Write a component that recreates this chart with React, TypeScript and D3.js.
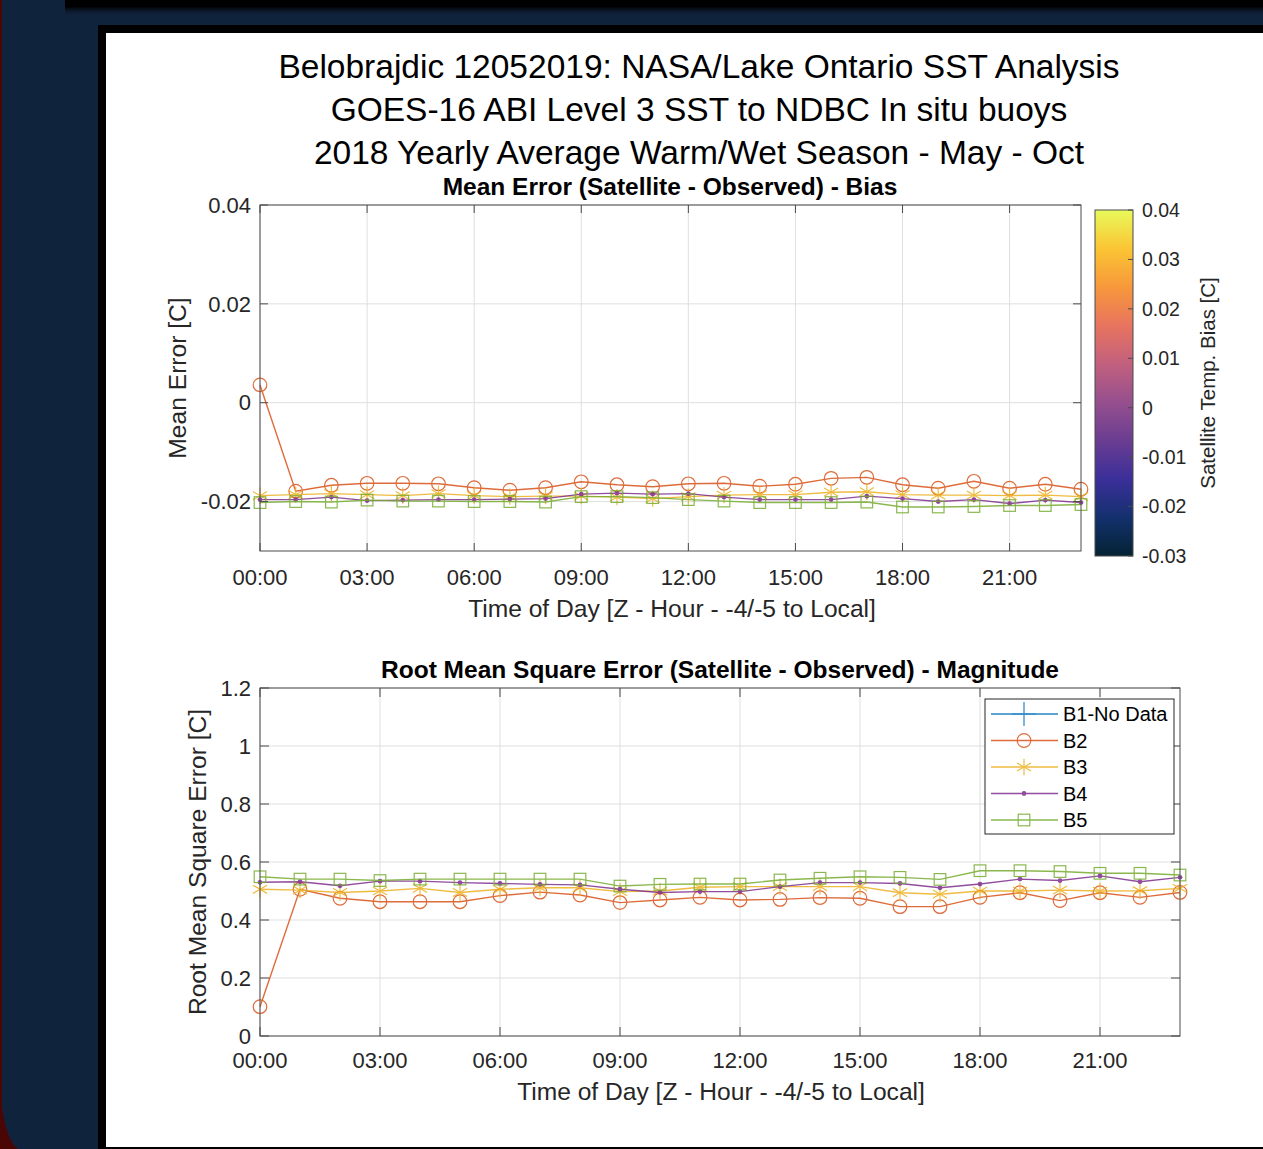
import * as d3 from 'd3'

// hours of day (Z)
const hours = [0, 1, 2, 3, 4, 5, 6, 7, 8, 9, 10, 11, 12, 13, 14, 15, 16, 17, 18, 19, 20, 21, 22, 23]
const hourTicks = [0, 3, 6, 9, 12, 15, 18, 21]
const hourLabels = ['00:00', '03:00', '06:00', '09:00', '12:00', '15:00', '18:00', '21:00']

// mean error (bias) per buoy
const biasB2 = [0.0036, -0.0179, -0.0167, -0.0163, -0.0163, -0.0164, -0.0172, -0.0177, -0.0172, -0.016, -0.0166, -0.017,
  -0.0164, -0.0163, -0.0169, -0.0165, -0.0153, -0.0151, -0.0166, -0.0173, -0.0159, -0.0173, -0.0165, -0.0175]
const biasB3 = [-0.0188, -0.0186, -0.0184, -0.0186, -0.0188, -0.0184, -0.0188, -0.019, -0.0189, -0.0189, -0.0191, -0.0194,
  -0.019, -0.0187, -0.0186, -0.0186, -0.0181, -0.018, -0.0186, -0.0187, -0.0187, -0.0188, -0.0187, -0.019]
const biasB4 = [-0.0196, -0.0196, -0.0191, -0.0198, -0.0197, -0.0196, -0.0196, -0.0195, -0.0194, -0.0185, -0.0183, -0.0185,
  -0.0184, -0.0191, -0.0196, -0.0196, -0.0196, -0.0189, -0.0194, -0.02, -0.0196, -0.0204, -0.0197, -0.0202]
const biasB5 = [-0.0202, -0.02, -0.0201, -0.0197, -0.0199, -0.0199, -0.02, -0.02, -0.0201, -0.019, -0.019, -0.0192,
  -0.0196, -0.0199, -0.0202, -0.0202, -0.0202, -0.0201, -0.0211, -0.0211, -0.021, -0.0208, -0.0208, -0.0206]

// root mean square error per buoy
const rmseB2 = [0.101, 0.506, 0.475, 0.463, 0.463, 0.463, 0.484, 0.496, 0.486, 0.46, 0.469, 0.478,
  0.469, 0.471, 0.477, 0.475, 0.446, 0.446, 0.478, 0.494, 0.467, 0.494, 0.478, 0.495]
const rmseB3 = [0.506, 0.503, 0.495, 0.5, 0.509, 0.495, 0.506, 0.511, 0.511, 0.498, 0.5, 0.513,
  0.515, 0.515, 0.515, 0.515, 0.494, 0.489, 0.5, 0.5, 0.503, 0.5, 0.501, 0.509]
const rmseB4 = [0.53, 0.532, 0.518, 0.534, 0.534, 0.529, 0.526, 0.523, 0.521, 0.506, 0.495, 0.498,
  0.498, 0.515, 0.529, 0.529, 0.526, 0.511, 0.524, 0.541, 0.536, 0.552, 0.532, 0.547]
const rmseB5 = [0.549, 0.541, 0.541, 0.536, 0.541, 0.541, 0.541, 0.541, 0.541, 0.517, 0.523, 0.524,
  0.524, 0.538, 0.544, 0.549, 0.547, 0.54, 0.57, 0.57, 0.567, 0.561, 0.561, 0.555]

const buoyNames = ['B1-No Data', 'B2', 'B3', 'B4', 'B5']
const buoyColors = ['#0072BD', '#D95319', '#EDB120', '#7E2F8E', '#77AC30']
const buoyMarkers = ['plus', 'circle', 'star', 'dot', 'square']

const biasTicks = [-0.02, 0, 0.02, 0.04]
const rmseTicks = [0, 0.2, 0.4, 0.6, 0.8, 1, 1.2]
const cbarTicks = [-0.03, -0.02, -0.01, 0, 0.01, 0.02, 0.03, 0.04]
// cmocean "thermal"-like colormap stops
const cbarColors = ['#042333', '#13306d', '#3b2f9a', '#6a3d91', '#964f8e', '#c2607e', '#e8745f', '#f7983b', '#fbc534', '#e8fa5b']

const FONT = '"Liberation Sans", Arial, Helvetica, sans-serif'
const TXT = '#262626'
const AX = '#4a4a4a'

function Marker({ kind, x, y, color }: { kind: string; x: number; y: number; color: string }) {
  if (kind === 'circle') return <circle cx={x} cy={y} r={6.8} fill="none" stroke={color} strokeWidth={1.2} />
  if (kind === 'square') return <rect x={x - 5.8} y={y - 5.8} width={11.6} height={11.6} fill="none" stroke={color} strokeWidth={1.2} />
  if (kind === 'dot') return <circle cx={x} cy={y} r={2.4} fill={color} />
  if (kind === 'star') return <path d={d3.symbol(d3.symbolAsterisk, 190)() || ''} transform={`translate(${x},${y})`} fill="none" stroke={color} strokeWidth={1.2} />
  if (kind === 'plus') return <path d={d3.symbol(d3.symbolPlus, 190)() || ''} transform={`translate(${x},${y})`} fill="none" stroke={color} strokeWidth={1.2} />
  return null
}

function Series({ values, idx, x, y }: { values: number[]; idx: number; x: d3.ScaleLinear<number, number>; y: d3.ScaleLinear<number, number> }) {
  const line = d3.line<number>().x((d, i) => x(hours[i])).y(d => y(d))
  const c = buoyColors[idx]
  return (
    <g opacity={0.85}>
      <path d={line(values) || ''} fill="none" stroke={c} strokeWidth={1.4} />
      {values.map((v, i) => <Marker key={i} kind={buoyMarkers[idx]} x={x(hours[i])} y={y(v)} color={c} />)}
    </g>
  )
}

function Grid({ x, y, yTicks }: { x: d3.ScaleLinear<number, number>; y: d3.ScaleLinear<number, number>; yTicks: number[] }) {
  const [x0, x1] = x.range()
  const [y1, y0] = y.range()
  return (
    <g>
      <rect x={x0} y={y0} width={x1 - x0} height={y1 - y0} fill="#fff" />
      {hourTicks.map(h => <line key={'gx' + h} x1={x(h)} x2={x(h)} y1={y0} y2={y1} stroke="#dfdfdf" strokeWidth={1} />)}
      {yTicks.map(t => <line key={'gy' + t} x1={x0} x2={x1} y1={y(t)} y2={y(t)} stroke="#dfdfdf" strokeWidth={1} />)}
    </g>
  )
}

function Frame({ x, y, yTicks, yFmt, tickLen, labelOff }: { x: d3.ScaleLinear<number, number>; y: d3.ScaleLinear<number, number>; yTicks: number[]; yFmt: (v: number) => string; tickLen: number; labelOff: number }) {
  const [x0, x1] = x.range()
  const [y1, y0] = y.range()
  return (
    <g fontFamily={FONT}>
      <rect x={x0} y={y0} width={x1 - x0} height={y1 - y0} fill="none" stroke={AX} strokeWidth={1} />
      {hourTicks.map(h => (
        <g key={'tx' + h}>
          <line x1={x(h)} x2={x(h)} y1={y1} y2={y1 - tickLen} stroke={AX} />
          <line x1={x(h)} x2={x(h)} y1={y0} y2={y0 + tickLen} stroke={AX} />
        </g>
      ))}
      {yTicks.map(t => (
        <g key={'ty' + t}>
          <line x1={x0} x2={x0 + tickLen} y1={y(t)} y2={y(t)} stroke={AX} />
          <line x1={x1} x2={x1 - tickLen} y1={y(t)} y2={y(t)} stroke={AX} />
          <text x={x0 - 9} y={y(t)} dy="0.35em" textAnchor="end" fontSize={22} fill={TXT}>{yFmt(t)}</text>
        </g>
      ))}
      {hourTicks.map((h, i) => (
        <text key={'lx' + h} x={x(h)} y={y1 + labelOff} textAnchor="middle" fontSize={22} fill={TXT}>{hourLabels[i]}</text>
      ))}
    </g>
  )
}

export default function App() {
  const W = 1263, H = 1149

  const xTop = d3.scaleLinear().domain([0, 23]).range([260, 1081])
  const yTop = d3.scaleLinear().domain([-0.03, 0.04]).range([551, 205])
  const xBot = d3.scaleLinear().domain([0, 23]).range([260, 1180])
  const yBot = d3.scaleLinear().domain([0, 1.2]).range([1036, 688])
  const yCbar = d3.scaleLinear().domain([-0.03, 0.04]).range([556, 210])

  const biasSeries = [null, biasB2, biasB3, biasB4, biasB5]
  const rmseSeries = [null, rmseB2, rmseB3, rmseB4, rmseB5]

  const fmtBias = (v: number) => (v === 0 ? '0' : d3.format('.2f')(v).replace('−', '-'))
  const fmtRmse = (v: number) => (v === 0 || v === 1 ? String(v) : d3.format('.1f')(v))

  const legX = 985, legY = 699, legRow = 26.5

  return (
    <svg width={W} height={H} style={{ position: 'absolute', left: 0, top: 0, display: 'block' }} fontFamily={FONT}>
      <defs>
        <linearGradient id="cbar" x1="0" y1="1" x2="0" y2="0">
          {cbarColors.map((c, i) => <stop key={i} offset={i / (cbarColors.length - 1)} stopColor={c} />)}
        </linearGradient>
        <linearGradient id="shadow" x1="0" y1="0" x2="0" y2="1">
          <stop offset="0" stopColor="#000" stopOpacity={0.9} />
          <stop offset="1" stopColor="#10233d" stopOpacity={0} />
        </linearGradient>
      </defs>

      {/* page background */}
      <rect x={0} y={0} width={W} height={H} fill="#10233d" />
      <rect x={0} y={0} width={2} height={H} fill="#4a0505" />
      <path d={`M0,${H - 60} Q4,${H - 10} 18,${H} L0,${H} Z`} fill="#4a0505" />
      <rect x={65} y={7} width={W - 65} height={10} fill="url(#shadow)" />
      <rect x={65} y={0} width={W - 65} height={7} fill="#000" />
      <rect x={98} y={25} width={W - 98} height={H - 25} fill="#000" />
      <rect x={106} y={33} width={W - 106} height={H - 35} fill="#fff" />

      {/* main title */}
      <g fontSize={33.5} fill="#000" textAnchor="middle">
        <text x={699} y={78}>Belobrajdic 12052019: NASA/Lake Ontario SST Analysis</text>
        <text x={699} y={121}>GOES-16 ABI Level 3 SST to NDBC In situ buoys</text>
        <text x={699} y={164}>2018 Yearly Average Warm/Wet Season - May - Oct</text>
      </g>

      {/* top: mean error */}
      <Grid x={xTop} y={yTop} yTicks={biasTicks} />
      {biasSeries.map((s, i) => s && <Series key={i} values={s} idx={i} x={xTop} y={yTop} />)}
      <Frame x={xTop} y={yTop} yTicks={biasTicks} yFmt={fmtBias} tickLen={8} labelOff={34} />
      <text x={670} y={195} textAnchor="middle" fontSize={24.5} fontWeight="bold" fill="#000">Mean Error (Satellite - Observed) - Bias</text>
      <text x={672} y={617} textAnchor="middle" fontSize={24.6} fill={TXT}>Time of Day [Z - Hour - -4/-5 to Local]</text>
      <text transform={`translate(186,378) rotate(-90)`} textAnchor="middle" fontSize={24.6} fill={TXT}>Mean Error [C]</text>

      {/* colorbar */}
      <rect x={1095} y={210} width={38} height={346} fill="url(#cbar)" stroke={AX} strokeWidth={1} />
      {cbarTicks.map(t => (
        <g key={'cb' + t}>
          <line x1={1133} x2={1128} y1={yCbar(t)} y2={yCbar(t)} stroke={AX} />
          <text x={1142} y={yCbar(t)} dy="0.35em" fontSize={19.5} fill={TXT}>{fmtBias(t)}</text>
        </g>
      ))}
      <text transform={`translate(1215,383) rotate(-90)`} textAnchor="middle" fontSize={20.5} fill={TXT}>Satellite Temp. Bias [C]</text>

      {/* bottom: RMSE */}
      <Grid x={xBot} y={yBot} yTicks={rmseTicks} />
      {rmseSeries.map((s, i) => s && <Series key={i} values={s} idx={i} x={xBot} y={yBot} />)}
      <Frame x={xBot} y={yBot} yTicks={rmseTicks} yFmt={fmtRmse} tickLen={9} labelOff={32} />
      <text x={720} y={678} textAnchor="middle" fontSize={24.5} fontWeight="bold" fill="#000">Root Mean Square Error (Satellite - Observed) - Magnitude</text>
      <text x={721} y={1100} textAnchor="middle" fontSize={24.6} fill={TXT}>Time of Day [Z - Hour - -4/-5 to Local]</text>
      <text transform={`translate(206,862) rotate(-90)`} textAnchor="middle" fontSize={24.6} fill={TXT}>Root Mean Square Error [C]</text>

      {/* legend */}
      <rect x={legX} y={legY} width={189} height={135} fill="#fff" stroke="#262626" strokeWidth={1} />
      {buoyNames.map((n, i) => {
        const yy = legY + 15 + i * legRow
        return (
          <g key={n}>
            <g opacity={0.85}>
              <line x1={991} x2={1058} y1={yy} y2={yy} stroke={buoyColors[i]} strokeWidth={1.4} />
              <Marker kind={buoyMarkers[i]} x={1024} y={yy} color={buoyColors[i]} />
            </g>
            <text x={1063} y={yy} dy="0.36em" fontSize={20} fill="#000">{n}</text>
          </g>
        )
      })}
    </svg>
  )
}
